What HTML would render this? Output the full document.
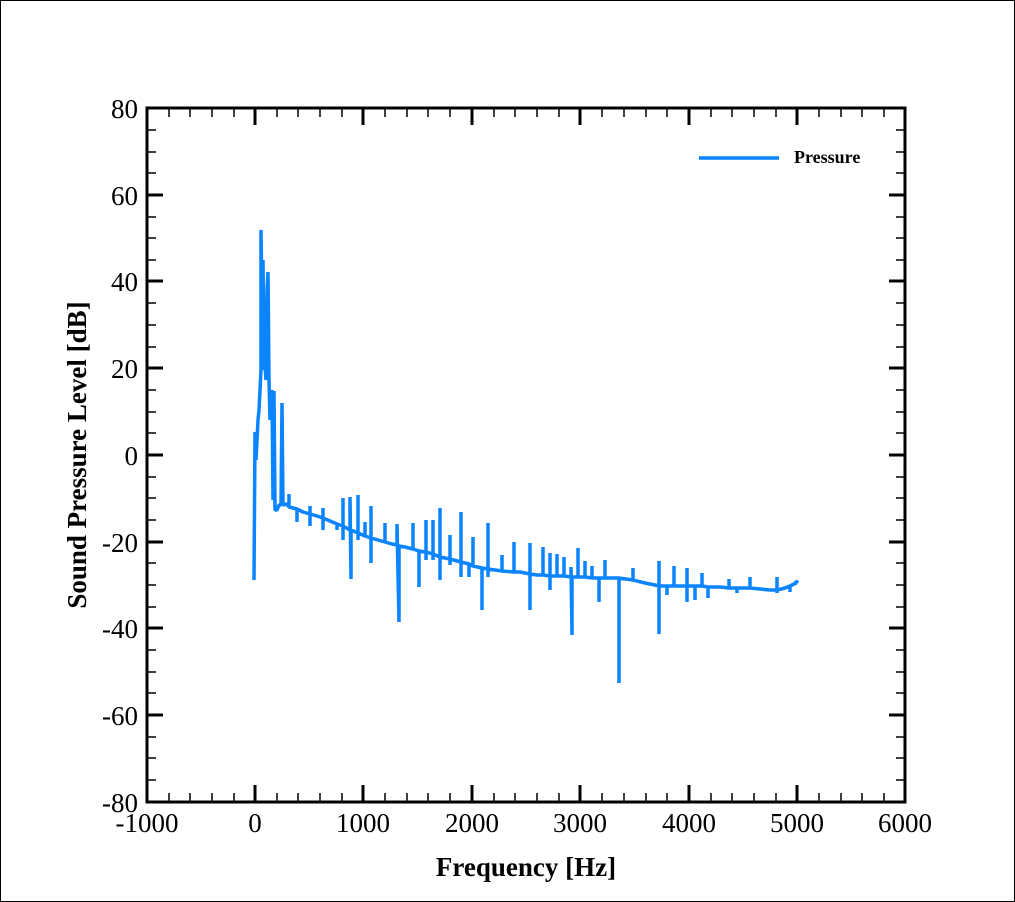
<!DOCTYPE html>
<html><head><style>body{margin:0;background:#fff}svg{display:block}</style></head><body>
<svg width="1015" height="902" xmlns="http://www.w3.org/2000/svg" font-family="Liberation Serif, serif">
<rect x="0.5" y="0.5" width="1014" height="901" fill="#fff" stroke="#000"/>
<g stroke="#000" stroke-width="1.5">
<path d="M147,108V802H905V108Z" fill="none" stroke-width="3"/>
<path d="M147,802v-17M255,802v-17M363,802v-17M472,802v-17M580,802v-17M689,802v-17M797,802v-17M905,802v-17M147,108v17M255,108v17M363,108v17M472,108v17M580,108v17M689,108v17M797,108v17" stroke-width="3"/>
<path d="M169,802v-9M190,802v-9M212,802v-9M234,802v-9M277,802v-9M298,802v-9M320,802v-9M342,802v-9M385,802v-9M407,802v-9M428,802v-9M450,802v-9M494,802v-9M515,802v-9M537,802v-9M559,802v-9M602,802v-9M624,802v-9M646,802v-9M667,802v-9M711,802v-9M732,802v-9M754,802v-9M776,802v-9M819,802v-9M841,802v-9M862,802v-9M884,802v-9"/>
<path d="M169,108v9M190,108v9M212,108v9M234,108v9M277,108v9M298,108v9M320,108v9M342,108v9M385,108v9M407,108v9M428,108v9M450,108v9M494,108v9M515,108v9M537,108v9M559,108v9M602,108v9M624,108v9M646,108v9M667,108v9M711,108v9M732,108v9M754,108v9M776,108v9M819,108v9M841,108v9M862,108v9M884,108v9"/>
<path d="M147,195h16M147,281h16M147,368h16M147,455h16M147,542h16M147,628h16M147,715h16M905,195h-16M905,281h-16M905,368h-16M905,455h-16M905,542h-16M905,628h-16M905,715h-16" stroke-width="3"/>
<path d="M147,130h9M147,152h9M147,173h9M147,217h9M147,238h9M147,260h9M147,303h9M147,325h9M147,347h9M147,390h9M147,412h9M147,433h9M147,477h9M147,498h9M147,520h9M147,563h9M147,585h9M147,607h9M147,650h9M147,672h9M147,693h9M147,737h9M147,758h9M147,780h9
M905,130h-9M905,152h-9M905,173h-9M905,217h-9M905,238h-9M905,260h-9M905,303h-9M905,325h-9M905,347h-9M905,390h-9M905,412h-9M905,433h-9M905,477h-9M905,498h-9M905,520h-9M905,563h-9M905,585h-9M905,607h-9M905,650h-9M905,672h-9M905,693h-9M905,737h-9M905,758h-9M905,780h-9"/>
</g>
<g font-size="27" text-anchor="end">
<text x="138" y="118">80</text><text x="138" y="205">60</text><text x="138" y="291">40</text><text x="138" y="378">20</text><text x="138" y="465">0</text><text x="138" y="552">-20</text><text x="138" y="638">-40</text><text x="138" y="725">-60</text><text x="138" y="812">-80</text>
</g>
<g font-size="27" text-anchor="middle">
<text x="147" y="832">-1000</text><text x="255" y="832">0</text><text x="363" y="832">1000</text><text x="472" y="832">2000</text><text x="580" y="832">3000</text><text x="689" y="832">4000</text><text x="797" y="832">5000</text><text x="905" y="832">6000</text>
</g>
<text x="526" y="876" font-size="27" font-weight="bold" text-anchor="middle">Frequency [Hz]</text>
<text transform="translate(86,455) rotate(-90)" font-size="27" font-weight="bold" text-anchor="middle">Sound Pressure Level [dB]</text>
<line x1="699" y1="158" x2="779" y2="158" stroke="#0a84ff" stroke-width="3.5"/>
<text x="794" y="163" font-size="18" font-weight="bold">Pressure</text>
<polyline fill="none" stroke="#0a84ff" stroke-width="3.5" stroke-linejoin="bevel" points="
254,580 255,432 256,460 257,440 258,420 259,410 260,390 261,370 261,230 262,300 263,260 264,370 265,365 266,380 267,290 268,272 269,380 270,420 271,400 272,390 273,500 274,391 275,510 277,510 279,505 281,505 282,403 283,505 287,504
289,507 289,494 289,507 293,508 297,509 297,522 297,509 303,512 310,514 310,506 310,526 310,514 317,516 323,518 323,508 323,530 323,518 330,521 337,524 337,530 337,524 343,526 343,498 343,540 343,526 350,530 350,497 351,579 351,530 358,533 358,495 358,540 358,533 365,536 365,522 365,536 371,538 371,506 371,563 371,538 378,540 385,542 385,523 385,542 392,544 397,545 397,524 399,622 399,546 405,547 413,549 413,523 413,549 419,551 419,587 419,551 426,552 426,520 426,560 426,552 433,554 433,520 433,560 433,554 440,557 440,508 440,580 440,557 450,559 450,535 450,565 450,559 461,562 461,512 461,577 461,562 469,564 469,577 469,564 473,566 473,537 473,566 482,568 482,610 482,568 488,569 488,523 488,577 488,569 495,570 502,571 502,555 502,571 514,572 514,542 514,572 520,572 530,574 530,543 530,610 530,574 537,575 543,575 543,547 543,575 550,576 550,553 550,590 550,576 557,576 557,554 557,576 564,576 564,557 564,576 571,577 571,567 572,635 572,577 578,577 578,548 578,577 585,577 585,561 585,577 592,578 592,566 592,578 599,578 599,602 599,578 605,578 605,560 605,578 612,578 619,578 619,683 619,578 626,579 633,580 633,568 633,580 645,583 655,585 659,586 659,561 659,634 659,586 667,586 667,595 667,586 674,586 674,566 674,586 687,586 687,568 687,602 687,586 695,586 695,600 695,586 702,586 702,573 702,586 708,587 708,598 708,587 720,587 729,588 729,579 729,588 737,588 737,593 737,588 750,588 750,577 750,588 760,589 770,590 777,590 777,577 777,593 777,590 785,588 790,586 790,592 790,586 796,583 796,581 798,583"/>
</svg>
</body></html>
